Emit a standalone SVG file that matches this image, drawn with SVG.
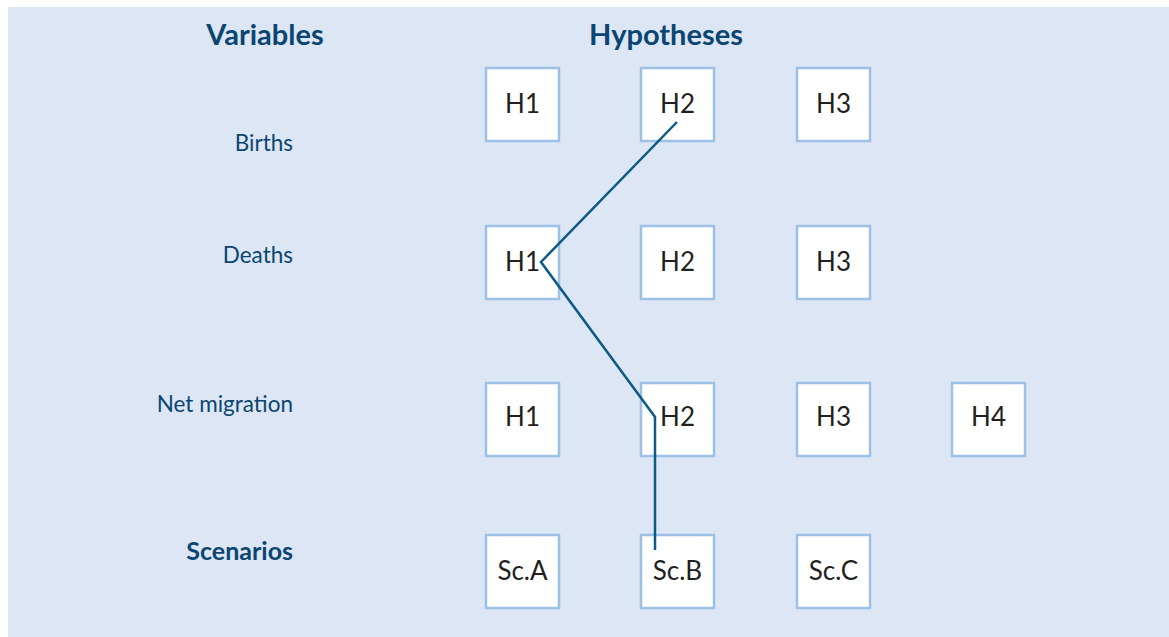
<svg xmlns="http://www.w3.org/2000/svg" width="1169" height="637" viewBox="0 0 1169 637">
<style>
.bg{fill:#dce6f4}
.box{fill:#ffffff;stroke:#9dc0e6;stroke-width:2.5}
.bt{font-family:Lato,"Open Sans","Liberation Sans",sans-serif;font-size:26px;fill:#231f20;text-anchor:middle}
.hd{font-family:Lato,"Open Sans","Liberation Sans",sans-serif;font-size:29px;font-weight:bold;fill:#0b4571;text-anchor:middle}
.lb{font-family:Lato,"Open Sans","Liberation Sans",sans-serif;font-size:22.5px;fill:#0b4571;text-anchor:end}
.lbb{font-family:Lato,"Open Sans","Liberation Sans",sans-serif;font-size:25px;font-weight:bold;fill:#0b4571;text-anchor:end}
.conn{fill:none;stroke:#0d5a86;stroke-width:2.5;stroke-linejoin:miter}
</style>
<rect class="bg" x="8" y="7" width="1161" height="630"/>
<text class="hd" x="265" y="45">Variables</text>
<text class="hd" x="666" y="45">Hypotheses</text>
<text class="lb" x="293" y="151">Births</text>
<text class="lb" x="293" y="263">Deaths</text>
<text class="lb" x="293" y="412">Net migration</text>
<text class="lbb" x="293" y="560">Scenarios</text>
<g id="b-h1"><rect class="box" x="486" y="68" width="73" height="73"/><text class="bt" x="522.5" y="113">H1</text></g>
<g id="b-h2"><rect class="box" x="641" y="68" width="73" height="73"/><text class="bt" x="677.5" y="113">H2</text></g>
<g id="b-h3"><rect class="box" x="797" y="68" width="73" height="73"/><text class="bt" x="833.5" y="113">H3</text></g>
<g id="d-h1"><rect class="box" x="486" y="226" width="73" height="73"/><text class="bt" x="522.5" y="271">H1</text></g>
<g id="d-h2"><rect class="box" x="641" y="226" width="73" height="73"/><text class="bt" x="677.5" y="271">H2</text></g>
<g id="d-h3"><rect class="box" x="797" y="226" width="73" height="73"/><text class="bt" x="833.5" y="271">H3</text></g>
<g id="m-h1"><rect class="box" x="486" y="383" width="73" height="73"/><text class="bt" x="522.5" y="426">H1</text></g>
<g id="m-h2"><rect class="box" x="641" y="383" width="73" height="73"/><text class="bt" x="677.5" y="426">H2</text></g>
<g id="m-h3"><rect class="box" x="797" y="383" width="73" height="73"/><text class="bt" x="833.5" y="426">H3</text></g>
<g id="m-h4"><rect class="box" x="952" y="383" width="73" height="73"/><text class="bt" x="988.5" y="426">H4</text></g>
<g id="sc-a"><rect class="box" x="486" y="535" width="73" height="73"/><text class="bt" x="522.5" y="580">Sc.A</text></g>
<g id="sc-b"><rect class="box" x="641" y="535" width="73" height="73"/><text class="bt" x="677.5" y="580">Sc.B</text></g>
<g id="sc-c"><rect class="box" x="797" y="535" width="73" height="73"/><text class="bt" x="833.5" y="580">Sc.C</text></g>
<g id="connectors">
<polyline class="conn" points="677,122 541,262 655,417 655,550"/>
</g>
</svg>
